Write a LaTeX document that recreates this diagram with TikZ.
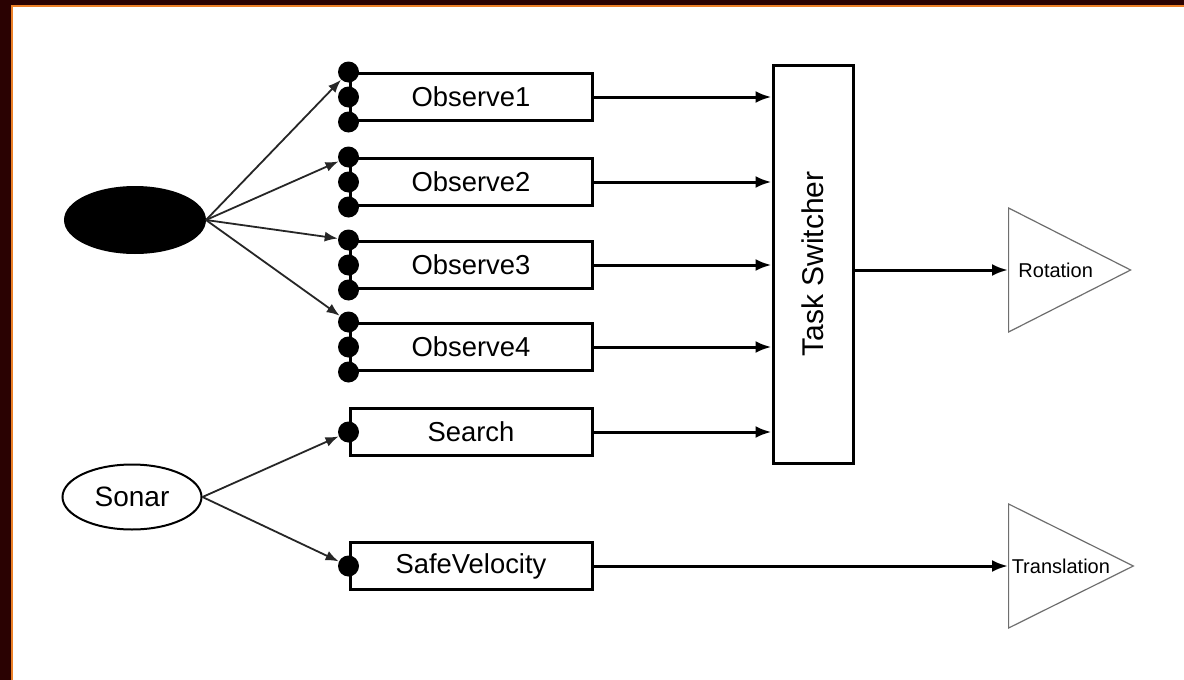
\documentclass[tikz,border=0pt]{standalone}
\usepackage{fontspec}
\setmainfont{Liberation Sans}
\usepackage{graphicx}
\usetikzlibrary{arrows.meta,shapes.geometric}
\definecolor{framedark}{RGB}{42,2,2}
\definecolor{frameorange}{RGB}{236,128,40}
\definecolor{triline}{RGB}{110,110,110}

\begin{document}
\begin{tikzpicture}[x=0.5pt, y=-0.5pt,
      behaviour/.style={draw, line width=1.5pt, minimum width=121pt, minimum height=23.5pt, inner sep=0pt, font=\fontsize{13.7}{16}\selectfont},
      port/.style={circle, fill=black, minimum size=10.5pt, inner sep=0pt},
      sensor/.style={ellipse, draw, line width=1pt, minimum width=69.5pt, minimum height=32.5pt, inner sep=0pt, font=\fontsize{14}{16}\selectfont},
      actuator/.style={isosceles triangle, isosceles triangle stretches, shape border rotate=0, draw=triline, line width=0.6pt, minimum width=62pt, minimum height=61pt, inner sep=1pt, font=\fontsize{10}{12}\selectfont},
      link/.style={-{Latex[length=6.5pt,width=5pt]}, line width=0.9pt, draw=black!85},
      flow/.style={-{Latex[length=8pt,width=6pt]}, line width=1.5pt}
    ]
      % page and frame
      \useasboundingbox (0,0) rectangle (1184,680);
      \fill[white] (0,0) rectangle (1184,680);
      \fill[framedark] (0,0) rectangle (1184,5);
      \fill[framedark] (0,0) rectangle (11,680);
      \draw[frameorange, line width=1pt] (12,680) -- (12,6) -- (1184,6);

      % sensors
      \node[sensor, fill=black, minimum width=70pt, minimum height=33pt] (vision) at (135,220) {};
      \node[sensor] (sonar) at (132,497) {Sonar};

      % behaviours
      \node[behaviour] (obs1) at (471,97) {Observe1};
      \node[behaviour] (obs2) at (471,182) {Observe2};
      \node[behaviour] (obs3) at (471,265) {Observe3};
      \node[behaviour] (obs4) at (471,347) {Observe4};
      \node[behaviour] (search) at (471,432) {Search};
      \node[behaviour] (safe) at (471,566) {SafeVelocity};

      \node[port] (obs1a) at (obs1.north west) {};
      \node[port] (obs1b) at (obs1.west) {};
      \node[port] (obs1c) at (obs1.south west) {};
      \node[port] (obs2a) at (obs2.north west) {};
      \node[port] (obs2b) at (obs2.west) {};
      \node[port] (obs2c) at (obs2.south west) {};
      \node[port] (obs3a) at (obs3.north west) {};
      \node[port] (obs3b) at (obs3.west) {};
      \node[port] (obs3c) at (obs3.south west) {};
      \node[port] (obs4a) at (obs4.north west) {};
      \node[port] (obs4b) at (obs4.west) {};
      \node[port] (obs4c) at (obs4.south west) {};
      \node[port] (searchp) at (search.west) {};
      \node[port] (safep) at (safe.west) {};

      % arbitration and outputs
      \node[draw, line width=1.5pt, minimum width=40pt, minimum height=199pt, inner sep=0pt, font=\fontsize{15}{17}\selectfont] (switcher) at (813,264) {\rotatebox{90}{Task Switcher}};
      \node[actuator, anchor=lower side] (rotation) at (1008,270) {Rotation};
      \node[actuator, anchor=lower side] (translation) at (1008,566) {Translation};

      % connections
      \draw[link] (vision.east) -- (obs1a);
      \draw[link] (vision.east) -- (obs2a);
      \draw[link] (vision.east) -- (obs3a);
      \draw[link] (vision.east) -- (obs4a);
      \draw[link] (sonar.east) -- (searchp);
      \draw[link] (sonar.east) -- (safep);

      \draw[flow] (obs1.east) -- (obs1.east -| switcher.west);
      \draw[flow] (obs2.east) -- (obs2.east -| switcher.west);
      \draw[flow] (obs3.east) -- (obs3.east -| switcher.west);
      \draw[flow] (obs4.east) -- (obs4.east -| switcher.west);
      \draw[flow] (search.east) -- (search.east -| switcher.west);
      \draw[flow] (switcher.east |- rotation.lower side) -- (rotation.lower side);
      \draw[flow] (safe.east) -- (translation.lower side);
    \end{tikzpicture}
\end{document}
